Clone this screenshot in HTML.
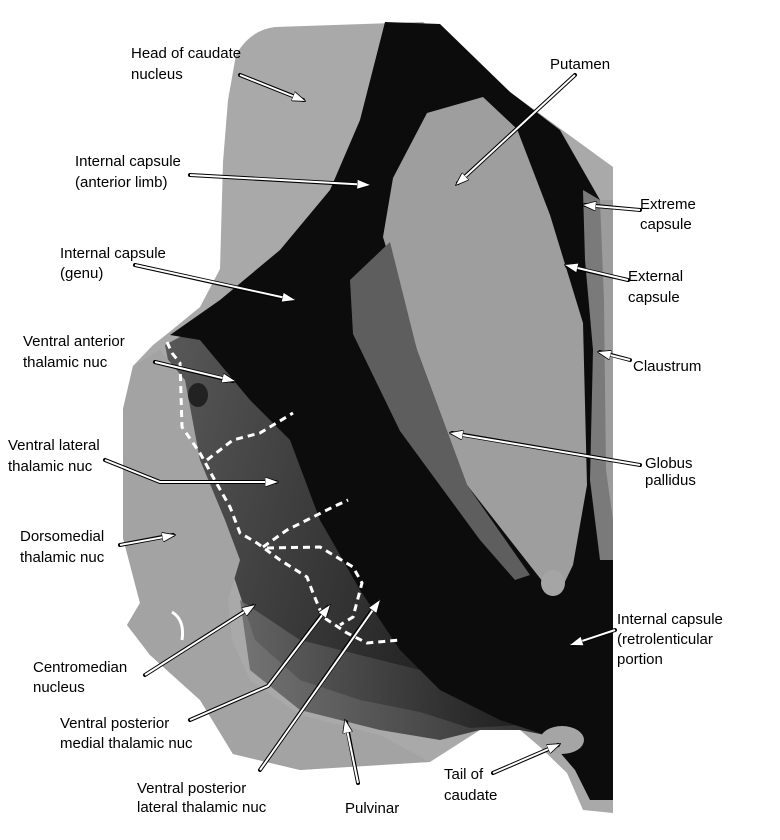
<!DOCTYPE html>
<html><head><meta charset="utf-8"><style>
html,body{margin:0;padding:0;background:#fff}
svg{display:block}
text{font-family:"Liberation Sans",Arial,sans-serif;font-size:15px;fill:#000}
</style></head><body>
<svg width="780" height="840" viewBox="0 0 780 840" xmlns="http://www.w3.org/2000/svg">
<defs>
<marker id="ah" markerWidth="14" markerHeight="10" refX="13" refY="5" orient="auto" markerUnits="userSpaceOnUse">
<path d="M0,0 L14,5 L0,10 Z" fill="#fff" stroke="#000" stroke-width="0.8"/>
</marker>
<linearGradient id="thal" x1="0" y1="0" x2="1" y2="0.3">
<stop offset="0" stop-color="#5a5a5a"/><stop offset="1" stop-color="#1e1e1e"/>
</linearGradient>
<linearGradient id="low" x1="0" y1="0" x2="1" y2="0">
<stop offset="0" stop-color="#6a6a6a"/><stop offset="1" stop-color="#1a1a1a"/>
</linearGradient>
</defs>
<rect width="780" height="840" fill="#fff"/>
<!-- tissue outline -->
<path d="M236,55 Q250,30 275,27 L423,22 L510,92 L613,167 L613,813 L583,810 L567,773 L540,747 L520,730 L480,730 L430,762 L380,764 L300,770 L233,754 L200,700 L150,655 L127,625 L140,603 L123,538 L123,409 L133,366 L153,345 L167,334 L200,307 L220,269 L223,162 L228,100 Z" fill="#a9a9a9"/>
<!-- thalamus darker area -->
<path d="M165,345 L230,310 L330,300 L420,420 L520,620 L520,725 L470,728 L420,712 L360,700 L300,680 L255,640 L235,580 L215,520 L190,470 Z" fill="url(#thal)"/>
<!-- lower striated region -->
<path d="M240,600 L300,640 L380,660 L460,680 L540,700 L545,735 L520,730 L480,730 L440,740 L380,730 L300,710 L250,670 Z" fill="url(#low)" opacity="0.85"/>
<!-- internal capsule black -->
<path d="M385,22 L440,24 L510,92 L560,130 L600,200 L613,300 L613,800 L590,800 L575,770 L545,735 L500,720 L440,690 L400,650 L360,590 L320,520 L290,440 L250,400 L200,340 L170,335 L220,300 L280,250 L330,190 L360,120 Z" fill="#0c0c0c"/>
<!-- lighter strips right (extreme capsule / claustrum) -->
<path d="M583,190 L600,200 L613,205 L613,560 L600,560 L590,480 L593,350 L585,260 Z" fill="#7a7a7a"/>
<path d="M600,200 L613,200 L613,520 L606,470 L604,300 Z" fill="#9c9c9c"/>
<!-- putamen -->
<path d="M393,178 L427,113 L483,97 L517,129 L550,215 L583,323 L587,485 L573,565 L560,592 L543,582 L467,485 L417,350 L383,237 Z" fill="#9e9e9e"/>
<ellipse cx="553" cy="583" rx="12" ry="13" fill="#a5a5a5"/>
<!-- globus pallidus -->
<path d="M350,280 L390,242 L417,350 L467,485 L530,575 L515,580 L480,540 L400,431 L353,334 Z" fill="#5e5e5e"/>
<!-- dorsomedial light area -->
<path d="M123,409 L133,366 L160,350 L185,380 L200,460 L225,520 L240,560 L228,600 L232,640 L250,680 L300,715 L380,735 L430,762 L300,770 L233,754 L200,700 L150,655 L127,625 L140,603 L123,538 Z" fill="#a3a3a3"/>
<ellipse cx="198" cy="395" rx="10" ry="12" fill="#222"/>
<!-- tail of caudate -->
<ellipse cx="562" cy="740" rx="22" ry="14" fill="#a5a5a5"/>
<path d="M172,612 Q185,620 182,640" stroke="#fff" stroke-width="3" fill="none"/>
<!-- dashed lines -->
<g stroke="#fff" stroke-width="3" fill="none" stroke-dasharray="7,5">
<path d="M167,342 L172,353 L180,363 L182,427 L200,453 L213,477 L230,507 L240,533 L257,543 L280,560 L307,577 L313,593 L323,617 L347,633 L367,643 L400,640"/>
<path d="M207,460 L233,440 L260,433 L293,413"/>
<path d="M263,547 L287,530 L307,520 L333,507 L348,500"/>
<path d="M267,548 L320,547 L353,567 L362,583 L353,617 L340,625"/>
</g>
<!-- arrows -->
<g stroke="#000" stroke-width="4" fill="none" stroke-linecap="round">
<path d="M240,75 L303,100"/><path d="M575,75 L458,183"/><path d="M190,175 L368,185"/>
<path d="M640,210 L585,205"/><path d="M135,265 L293,300"/><path d="M628,280 L567,266"/>
<path d="M155,362 L233,381"/><path d="M630,360 L600,352"/><path d="M105,460 L160,482 L276,482"/>
<path d="M640,465 L452,433"/><path d="M120,545 L173,535"/><path d="M615,630 L572,645"/>
<path d="M145,675 L253,606"/><path d="M190,720 L268,686 L328,607"/><path d="M260,770 L378,602"/>
<path d="M358,783 L346,722"/><path d="M493,773 L558,745"/>
</g>
<g stroke="#fff" stroke-width="2" fill="none" marker-end="url(#ah)">
<path d="M240,75 L305,101"/><path d="M575,75 L456,185"/><path d="M190,175 L370,185"/>
<path d="M640,210 L583,205"/><path d="M135,265 L295,300"/><path d="M628,280 L565,265"/>
<path d="M155,362 L235,381"/><path d="M630,360 L598,352"/><path d="M105,460 L160,482 L278,482"/>
<path d="M640,465 L450,433"/><path d="M120,545 L175,535"/><path d="M615,630 L570,645"/>
<path d="M145,675 L255,605"/><path d="M190,720 L268,686 L330,605"/><path d="M260,770 L380,600"/>
<path d="M358,783 L345,720"/><path d="M493,773 L560,744"/>
</g>
<!-- labels -->
<text x="131" y="58">Head of caudate</text><text x="131" y="79">nucleus</text>
<text x="550" y="69">Putamen</text>
<text x="75" y="166">Internal capsule</text><text x="75" y="187">(anterior limb)</text>
<text x="640" y="209">Extreme</text><text x="640" y="229">capsule</text>
<text x="60" y="258">Internal capsule</text><text x="60" y="278">(genu)</text>
<text x="628" y="281">External</text><text x="628" y="302">capsule</text>
<text x="23" y="346">Ventral anterior</text><text x="23" y="367">thalamic nuc</text>
<text x="633" y="371">Claustrum</text>
<text x="8" y="450">Ventral lateral</text><text x="8" y="471">thalamic nuc</text>
<text x="645" y="468">Globus</text><text x="645" y="485">pallidus</text>
<text x="20" y="541">Dorsomedial</text><text x="20" y="562">thalamic nuc</text>
<text x="617" y="624">Internal capsule</text><text x="617" y="644">(retrolenticular</text><text x="617" y="664">portion</text>
<text x="33" y="672">Centromedian</text><text x="33" y="692">nucleus</text>
<text x="60" y="728">Ventral posterior</text><text x="60" y="748">medial thalamic nuc</text>
<text x="137" y="793">Ventral posterior</text><text x="137" y="812">lateral thalamic nuc</text>
<text x="345" y="813">Pulvinar</text>
<text x="444" y="779">Tail of</text><text x="444" y="800">caudate</text>
</svg>
</body></html>
